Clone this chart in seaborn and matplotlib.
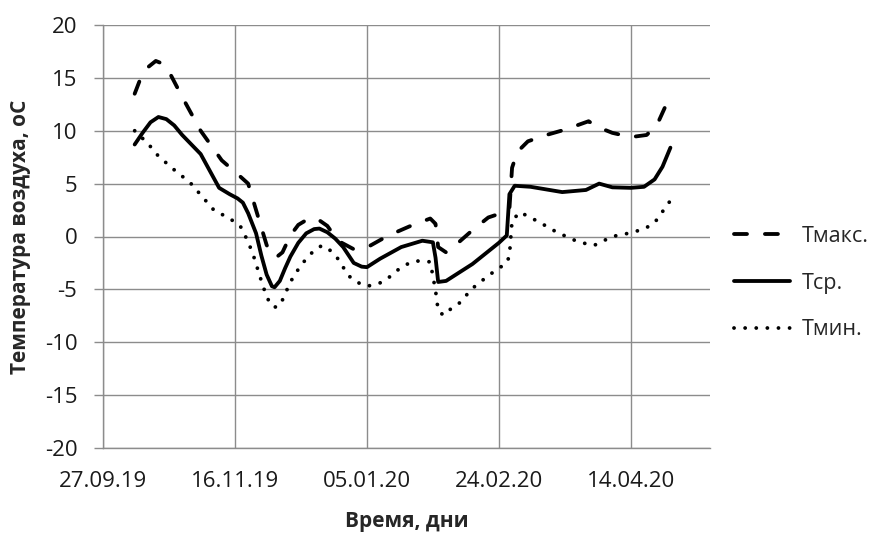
import pandas as pd
import numpy as np
import seaborn as sns
import matplotlib.pyplot as plt
import matplotlib.dates as mdates

# данные
tmax_dates = ['2019-10-09', '2019-10-11', '2019-10-14', '2019-10-17', '2019-10-19', '2019-10-22',
              '2019-10-27', '2019-11-03', '2019-11-11', '2019-11-17', '2019-11-21', '2019-11-24',
              '2019-11-28', '2019-11-30', '2019-12-02', '2019-12-04', '2019-12-07', '2019-12-10',
              '2019-12-14', '2019-12-17', '2019-12-21', '2019-12-25', '2019-12-31', '2020-01-06',
              '2020-01-11', '2020-01-16', '2020-01-22', '2020-01-29', '2020-01-31', '2020-02-01',
              '2020-02-04', '2020-02-09', '2020-02-14', '2020-02-20', '2020-02-26', '2020-02-28',
              '2020-02-29', '2020-03-02', '2020-03-06', '2020-03-13', '2020-03-20', '2020-03-29',
              '2020-04-01', '2020-04-07', '2020-04-14', '2020-04-20', '2020-04-24', '2020-04-28']
tmax = [13.5, 14.8, 16.0, 16.6, 16.4, 15.6,
        13.2, 10.0, 7.2, 5.9, 5.0, 2.5,
        -0.8, -1.8, -1.9, -1.5, 0.1, 1.1,
        1.7, 1.7, 1.0, -0.4, -1.2, -0.9,
        -0.2, 0.4, 1.05, 1.7, 1.2, -1.0,
        -1.5, -0.5, 0.6, 1.8, 2.3, 2.6,
        6.5, 8.0, 9.0, 9.6, 10.1, 10.9,
        10.4, 9.8, 9.4, 9.6, 10.6, 12.8]

tavg_dates = ['2019-10-09', '2019-10-12', '2019-10-15', '2019-10-18', '2019-10-21', '2019-10-24',
              '2019-10-27', '2019-11-03', '2019-11-10', '2019-11-14', '2019-11-17', '2019-11-19',
              '2019-11-21', '2019-11-24', '2019-11-26', '2019-11-28', '2019-11-30', '2019-12-01',
              '2019-12-03', '2019-12-05', '2019-12-07', '2019-12-10', '2019-12-13', '2019-12-16',
              '2019-12-18', '2019-12-21', '2019-12-24', '2019-12-27', '2019-12-31', '2020-01-03',
              '2020-01-05', '2020-01-10', '2020-01-18', '2020-01-26', '2020-01-30', '2020-01-31',
              '2020-02-01', '2020-02-04', '2020-02-14', '2020-02-24', '2020-02-27', '2020-02-28',
              '2020-03-01', '2020-03-07', '2020-03-19', '2020-03-28', '2020-04-02', '2020-04-07',
              '2020-04-14', '2020-04-19', '2020-04-23', '2020-04-26', '2020-04-29']
tavg = [8.7, 9.8, 10.8, 11.3, 11.1, 10.5,
        9.6, 7.8, 4.6, 4.0, 3.6, 3.2,
        2.2, 0.3, -1.8, -3.6, -4.7, -4.8,
        -4.2, -3.0, -1.9, -0.6, 0.3, 0.7,
        0.75, 0.4, -0.2, -1.0, -2.5, -2.85,
        -2.9, -2.1, -1.0, -0.4, -0.55, -2.0,
        -4.3, -4.2, -2.6, -0.6, 0.1, 4.0,
        4.8, 4.7, 4.2, 4.4, 5.0, 4.65,
        4.6, 4.7, 5.4, 6.6, 8.4]

tmin_dates = ['2019-10-09', '2019-10-14', '2019-10-18', '2019-10-24', '2019-10-30', '2019-11-08',
              '2019-11-14', '2019-11-18', '2019-11-21', '2019-11-23', '2019-11-26', '2019-11-28',
              '2019-11-30', '2019-12-02', '2019-12-04', '2019-12-07', '2019-12-11', '2019-12-16',
              '2019-12-19', '2019-12-22', '2019-12-25', '2019-12-29', '2020-01-01', '2020-01-05',
              '2020-01-09', '2020-01-12', '2020-01-18', '2020-01-22', '2020-01-25', '2020-01-29',
              '2020-01-31', '2020-02-01', '2020-02-03', '2020-02-06', '2020-02-09', '2020-02-14',
              '2020-02-20', '2020-02-24', '2020-02-27', '2020-02-28', '2020-02-29', '2020-03-03',
              '2020-03-10', '2020-03-17', '2020-03-25', '2020-03-31', '2020-04-07', '2020-04-13',
              '2020-04-19', '2020-04-23', '2020-04-29']
tmin = [10.0, 8.8, 7.6, 6.3, 5.1, 2.5,
        1.7, 1.0, -0.5, -1.8, -4.2, -5.7,
        -6.6, -6.7, -6.0, -4.3, -2.7, -1.3,
        -0.85, -1.3, -2.1, -3.7, -4.3, -4.7,
        -4.5, -4.15, -2.9, -2.4, -2.3, -2.4,
        -5.1, -7.0, -7.45, -6.8, -6.3, -4.9,
        -3.7, -3.0, -2.5, -1.8, 1.5, 2.3,
        1.4, 0.4, -0.5, -0.85, 0.0, 0.3,
        0.7, 1.3, 3.4]

x_ticks = ['2019-09-27', '2019-11-16', '2020-01-05', '2020-02-24', '2020-04-14']
y_ticks = [-20, -15, -10, -5, 0, 5, 10, 15, 20]

sns.set_style('white')
plt.rcParams['font.family'] = ['Open Sans', 'DejaVu Sans']
plt.rcParams['axes.unicode_minus'] = False

fig = plt.figure(figsize=(8.87, 5.36), dpi=100)
ax = fig.add_axes([103 / 887, 88 / 536, 607 / 887, 423 / 536])

lw = 2.75
sns.lineplot(x=pd.to_datetime(tmax_dates), y=tmax, ax=ax, color='black', lw=lw,
             linestyle=(0, (3.4, 4.7)), dash_capstyle='round', label='Тмакс.',
             sort=False, estimator=None)
sns.lineplot(x=pd.to_datetime(tavg_dates), y=tavg, ax=ax, color='black', lw=lw,
             label='Тср.', sort=False, estimator=None)
sns.lineplot(x=pd.to_datetime(tmin_dates), y=tmin, ax=ax, color='black', lw=lw,
             linestyle=(0, (0.01, 2.9)), dash_capstyle='round', label='Тмин.',
             sort=False, estimator=None)

grid_color = '#8c8c8c'
ax.set_ylim(-20, 20)
ax.set_yticks(y_ticks)
ax.set_xlim(pd.Timestamp('2019-09-27'), pd.Timestamp('2020-05-14'))
ax.set_xticks(pd.to_datetime(x_ticks))
ax.xaxis.set_major_formatter(mdates.DateFormatter('%d.%m.%y'))
ax.grid(True, color=grid_color, lw=1)
for s in ['top', 'right']:
    ax.spines[s].set_visible(False)
for s in ['left', 'bottom']:
    ax.spines[s].set_color(grid_color)
    ax.spines[s].set_linewidth(1)
ax.tick_params(axis='y', left=True, length=6.5, width=1, color=grid_color, pad=12,
               labelsize=16, labelcolor='#1a1a1a')
ax.tick_params(axis='x', bottom=False, pad=13, labelsize=16, labelcolor='#1a1a1a')

ax.set_xlabel('Время, дни', fontsize=15, fontweight='bold', labelpad=14)
ax.set_ylabel('Температура воздуха, оС', fontsize=15, fontweight='bold', labelpad=10)

ax.legend(loc='center left', bbox_to_anchor=(734 / 887, 1 - 283 / 536),
          bbox_transform=fig.transFigure, frameon=False, fontsize=15.5,
          handlelength=2.6, handletextpad=0.55, labelspacing=1.2, borderpad=0,
          borderaxespad=0)

fig.savefig('out.png', dpi=100)
